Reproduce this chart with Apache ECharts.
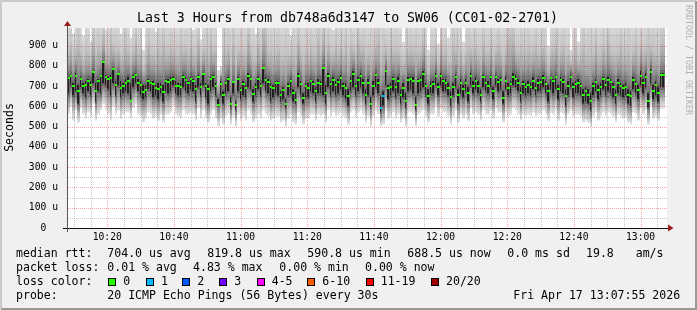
<!DOCTYPE html>
<html><head><meta charset="utf-8">
<script src="https://cdn.jsdelivr.net/npm/echarts@6/dist/echarts.min.js"></script>
<style>html,body{margin:0;padding:0;background:#f0f0f0;}#c{width:697px;height:310px;}</style>
</head><body><div id="c"></div>
<script>
// ---------------- data ----------------
const chartTitle = 'Last 3 Hours from db748a6d3147 to SW06 (CC01-02-2701)';
const startSec = 36475;   // 10:07:55
const endSec = 47275;     // 13:07:55
const stepSec = 45;
const xTickLabels = ['10:20','10:40','11:00','11:20','11:40','12:00','12:20','12:40','13:00'];
const yTickValues = [0,100,200,300,400,500,600,700,800,900];
const yMax = 987;

const median = [
738,752,702,752,677,734,703,707,726,707,771,674,723,748,820,743,736,739,785,707,761,693,703,715,726,628,744,756,715,707,669,682,726,715,711,693,687,697,669,726,720,731,736,703,703,698,744,731,
715,736,723,687,744,698,761,702,687,736,744,703,605,711,657,715,736,613,720,605,734,682,711,690,751,736,661,698,736,703,792,731,720,698,693,715,715,654,682,613,703,723,666,633,752,711,644,700,
693,723,710,677,715,711,792,666,752,711,731,707,720,739,703,693,649,726,761,702,731,752,715,654,715,613,703,756,715,591,649,777,690,698,736,695,723,657,693,625,731,734,726,608,723,731,761,703,
649,702,710,752,698,752,723,718,693,646,698,743,654,715,687,715,666,752,703,726,703,657,743,715,702,743,674,743,720,731,644,726,690,710,744,736,715,666,710,698,707,695,726,693,715,720,739,710,
677,739,723,744,685,731,720,649,703,744,698,711,718,702,654,674,654,625,703,720,682,698,736,707,731,720,698,654,715,702,693,698,657,649,731,710,682,752,715,744,628,772,674,707,666,756,756,null];

const coreLow = [
650,690,640,660,600,680,650,630,660,640,700,610,660,650,700,690,670,640,700,640,690,630,650,660,650,620,680,700,660,640,620,630,670,660,630,640,620,650,610,660,650,660,690,650,640,640,680,660,
650,670,660,610,680,640,690,630,600,660,680,640,590,640,600,650,660,580,650,570,660,620,640,630,680,670,610,640,670,640,700,660,650,610,630,650,640,610,620,580,640,650,610,600,680,640,600,630,
630,660,650,610,650,650,640,600,680,640,660,640,650,670,640,620,590,660,680,640,660,680,650,600,640,580,640,680,650,560,590,690,620,640,660,630,650,600,630,580,660,670,650,570,650,660,680,640,
600,650,650,690,640,690,660,660,640,590,640,680,600,650,630,660,610,690,650,670,650,610,680,660,650,680,620,690,660,670,600,670,640,650,690,680,660,610,650,640,650,640,670,640,660,660,680,650,
610,670,650,670,620,660,650,590,640,680,630,650,650,640,600,610,600,570,640,660,620,640,670,640,660,650,630,600,650,640,630,640,600,590,670,650,620,690,650,680,580,700,620,640,610,680,680,null];

const coreHigh = [
760,770,730,780,720,760,730,740,750,740,790,730,750,770,830,770,760,770,800,740,780,740,730,750,760,730,770,780,750,740,720,720,750,740,740,720,730,730,720,750,750,760,760,740,730,730,770,760,
740,760,750,720,770,730,780,730,720,760,770,730,650,740,690,740,760,660,740,640,760,710,740,720,780,760,700,730,760,730,810,760,750,730,720,740,740,690,710,650,730,750,700,680,780,740,680,730,
730,750,740,710,750,740,810,720,780,740,760,740,750,770,730,730,700,760,790,730,760,780,750,700,750,660,740,780,750,660,690,800,720,730,760,730,760,700,730,680,760,760,760,660,750,760,790,730,
700,740,740,780,730,780,750,750,730,690,730,770,700,750,720,750,710,780,740,760,740,700,770,750,740,770,710,770,750,760,690,760,730,740,780,770,750,710,740,730,740,730,760,730,750,750,770,740,
720,760,750,770,720,760,750,700,740,770,730,740,750,730,700,710,700,680,730,750,720,730,760,740,760,750,730,700,750,730,720,730,700,690,760,740,720,790,750,780,680,800,720,740,710,780,780,null];

const smokeLow = [
560,600,530,580,520,590,560,540,570,550,610,530,560,580,610,580,560,530,600,560,580,540,560,570,570,540,590,610,560,550,520,540,570,560,540,550,530,560,520,560,560,570,600,560,550,540,580,560,
560,570,560,530,590,540,580,540,520,560,580,540,500,540,510,550,560,510,550,500,560,530,550,530,580,560,520,540,560,540,580,560,550,530,540,550,550,520,530,500,540,560,520,510,570,550,510,540,
540,560,560,530,560,550,560,520,580,550,570,550,560,570,550,540,510,570,580,540,570,580,560,520,550,500,550,580,560,500,510,580,540,550,570,540,560,520,540,500,570,570,560,500,560,570,580,550,
520,560,560,600,550,590,570,570,550,510,550,580,520,560,540,560,530,590,560,570,560,530,580,560,560,580,540,590,570,570,520,570,550,560,590,580,560,530,560,550,560,550,570,550,560,560,580,560,
530,570,560,580,530,570,560,510,560,580,550,560,560,550,520,530,520,500,550,570,530,550,570,550,570,560,550,520,560,550,540,550,520,510,570,560,530,590,560,580,510,600,540,550,530,590,590,null];

const smokeHigh = [
1000,1080,960,1000,1150,1000,950,1040,1000,920,1120,1000,1060,1000,1100,980,1000,1150,1000,1040,1000,960,1000,1080,1000,940,1000,1120,1000,1050,880,1000,1100,1000,1000,970,1060,1000,1150,1000,1000,1080,1000,990,1000,1120,1000,1040,
1000,1060,980,1000,1120,930,1000,1040,1000,1150,1000,1080,780,800,1100,1000,1040,1000,1120,1000,1000,1060,1000,1000,1150,1000,1000,960,1080,1000,1200,1180,1000,1040,1000,1000,1060,1000,1000,1100,1000,950,1040,1000,1120,1000,1000,1060,
1000,1080,1000,1040,1150,1000,1100,1000,1060,1000,980,1120,1000,1040,1000,1150,1000,1080,1000,1000,1120,1000,1060,1000,1000,1100,1000,1040,1150,1000,1080,1000,1000,1120,1000,1060,1000,1000,920,1100,1000,1040,1000,1150,1000,1000,1080,1000,
880,1000,1000,1060,910,1100,1000,1040,940,1000,1120,1000,1000,1060,920,1000,1080,1000,1000,1040,1000,1000,1100,1000,1000,1060,1000,1000,1080,1000,1000,1040,1200,1180,1150,1000,1000,1100,1000,1000,1060,1000,1000,1120,1000,1000,1040,1000,
900,1000,1040,1100,1000,1000,1060,1000,1000,880,1000,1080,920,1000,1120,1000,1040,1000,1000,1150,1000,1000,1060,1000,1100,1000,1000,1040,1000,1150,1000,1000,1080,1000,1000,1120,1000,1040,1000,1000,1150,1000,1060,1000,1000,1080,1100,null];

const lossOnePoints = [125, 126];   // sample indices with 1 of 20 pings lost

const lossColors = ['#26ff00','#00b8ff','#0059ff','#7000ff','#ff00ff','#ff5a00','#ff0000','#a10000'];
const lossLabels = ['0','1','2','3','4-5','6-10','11-19','20/20'];

const statsRows = [
  ['median rtt:', '704.0 us avg', '819.8 us max', '590.8 us min', '688.5 us now', '0.0 ms sd', '19.8', 'am/s'],
  ['packet loss:', '0.01 % avg', '4.83 % max', '0.00 % min', '0.00 % now'],
];
const probeText = ['probe:', '20 ICMP Echo Pings (56 Bytes) every 30s', 'Fri Apr 17 13:07:55 2026'];

// ---------------- layout ----------------
const G = {left: 67, top: 28, width: 600, height: 200};
const MONO = '"DejaVu Sans Mono", monospace';
const row1X = [16, 107.3, 207.3, 307.3, 407.3, 507.3, 586, 635.7];
const row2X = [16, 107.3, 193, 279.3, 365];
const boxX = [108.3, 146, 182.3, 219.3, 256.7, 307.3, 365.7, 431];
const rowY = [254, 268, 282, 296];

const toSec = s => { const [h, m] = s.split(':').map(Number); return h * 3600 + m * 60; };
const xTickSecs = xTickLabels.map(toSec);
const fmtTime = v => { const h = Math.floor(v / 3600), m = Math.floor((v % 3600) / 60); return (h < 10 ? '0' : '') + h + ':' + (m < 10 ? '0' : '') + m; };

const smokeData = median.map((m, i) => [startSec + i * stepSec, smokeLow[i], coreLow[i], coreHigh[i], smokeHigh[i]]);
const medData = median.map((m, i) => [startSec + i * stepSec, m, lossOnePoints.indexOf(i) >= 0 ? 1 : 0]);

// grid line positions (minor every 5 min / 50 u, major every 20 min / 100 u)
const minorGrid = [], majorGrid = [];
for (let s = 36600; s < endSec; s += 300) (s % 1200 === 0 ? majorGrid : minorGrid).push([s, 0, 0]);
for (let v = 50; v < yMax; v += 50) (v % 100 === 0 ? majorGrid : minorGrid).push([startSec, v, 1]);

const LG = echarts.graphic.LinearGradient;

function renderSmoke(params, api) {
  const d = smokeData[params.dataIndex];
  const t = d[0], lo = d[1], cl = d[2], ch = d[3], hi = d[4];
  if ([lo, cl, ch, hi].some(v => v == null)) return null;
  const x0 = Math.round(api.coord([t, 0])[0]);
  const x1 = Math.round(api.coord([t + stepSec, 0])[0]);
  const w = x1 - x0;
  const yLo = api.coord([t, lo])[1], yCl = api.coord([t, cl])[1], yCh = api.coord([t, ch])[1], yHi = api.coord([t, hi])[1];
  const bw = Math.max(1, w - 1);
  return {
    type: 'group',
    children: [
      {type: 'rect', shape: {x: x0, y: yHi, width: w, height: yCh - yHi},
       style: {fill: new LG(0, 0, 0, 1, [{offset: 0, color: '#dadada'}, {offset: 0.5, color: '#c4c4c4'}, {offset: 0.8, color: '#a2a2a2'}, {offset: 1, color: '#767676'}])}},
      {type: 'rect', shape: {x: x0, y: yCh, width: w, height: yCl - yCh}, style: {fill: '#6a6a6a'}},
      {type: 'rect', shape: {x: x0, y: yCh + 3, width: bw, height: Math.max(0, yCl - yCh - 6)}, style: {fill: '#202020'}},
      {type: 'rect', shape: {x: x0, y: yCl, width: w, height: yLo - yCl},
       style: {fill: new LG(0, 0, 0, 1, [{offset: 0, color: '#767676'}, {offset: 0.3, color: '#a2a2a2'}, {offset: 0.65, color: '#cacaca'}, {offset: 1, color: '#e4e4e4'}])}}
    ]
  };
}

function renderMedian(params, api) {
  const d = medData[params.dataIndex];
  const t = d[0], m = d[1], loss = d[2];
  if (m == null) return null;
  const x0 = Math.round(api.coord([t, 0])[0]);
  const x1 = Math.round(api.coord([t + stepSec, 0])[0]);
  const y = Math.round(api.coord([t, m])[1]);
  return {type: 'rect', shape: {x: x0, y: y - 1, width: x1 - x0, height: 2}, style: {fill: lossColors[loss]}};
}

// dotted grid line drawn as a filled path of 1px dots
function makeGridRenderer(list, color) {
  return function (params, api) {
    const d = list[params.dataIndex];
    let p = '';
    if (d[2] === 0) {
      const p0 = api.coord([d[0], 0]), p1 = api.coord([d[0], yMax]);
      const x = Math.round(p0[0]);
      for (let y = Math.round(p1[1]); y < Math.round(p0[1]); y += 2) p += 'M' + x + ' ' + y + 'h1v1h-1z';
    } else {
      const p0 = api.coord([startSec, d[1]]), p1 = api.coord([endSec, d[1]]);
      const y = Math.round(p0[1]);
      for (let x = Math.round(p0[0]) + 1; x < Math.round(p1[0]); x += 2) p += 'M' + x + ' ' + y + 'h1v1h-1z';
    }
    return {type: 'path', shape: {pathData: p}, style: {fill: color, stroke: null}};
  };
}

// ---------------- graphic (texts, frame) ----------------
function txt(x, y, s, opts) {
  opts = opts || {};
  return {type: 'text', x: x, y: y, rotation: opts.rotation || 0, silent: true,
    style: {text: s, font: (opts.size || 11.56) + 'px ' + MONO, fill: opts.color || '#000',
      align: opts.align || 'left', verticalAlign: 'middle', textAlign: opts.align || 'left', textVerticalAlign: 'middle'}};
}
const graphics = [];
graphics.push({type: 'polyline', silent: true, shape: {points: [[1, 309], [1, 1], [696, 1]]}, style: {stroke: '#cbcbcb', lineWidth: 2, fill: null}});
graphics.push({type: 'polyline', silent: true, shape: {points: [[1, 309], [696, 309], [696, 1]]}, style: {stroke: '#999999', lineWidth: 2, fill: null}});
graphics.push(txt(347.5, 19, chartTitle, {size: 13.2, align: 'center'}));
graphics.push(txt(10, 127.5, 'Seconds', {rotation: Math.PI / 2, align: 'center'}));
graphics.push(txt(688.3, 60, 'RRDTOOL / TOBI OETIKER', {rotation: -Math.PI / 2, align: 'center', size: 8.3, color: '#b0b0b0'}));
// axis lines and arrows
graphics.push({type: 'rect', silent: true, z: 50, shape: {x: 63, y: 228, width: 606, height: 1}, style: {fill: '#111'}});
graphics.push({type: 'rect', silent: true, z: 50, shape: {x: 67, y: 25, width: 1, height: 207}, style: {fill: '#555'}});
graphics.push({type: 'polygon', silent: true, z: 51, shape: {points: [[64, 26], [71, 26], [67.5, 21]]}, style: {fill: '#9a1c1c'}});
graphics.push({type: 'polygon', silent: true, z: 51, shape: {points: [[668, 224.5], [668, 231.5], [673.5, 228]]}, style: {fill: '#9a1c1c'}});
// stats rows
statsRows[0].forEach((s, i) => graphics.push(txt(row1X[i], rowY[0], s)));
statsRows[1].forEach((s, i) => graphics.push(txt(row2X[i], rowY[1], s)));
graphics.push(txt(16, rowY[2], 'loss color:'));
lossLabels.forEach((s, i) => {
  const bx = Math.round(boxX[i]);
  graphics.push({type: 'rect', silent: true, shape: {x: bx, y: rowY[2] - 4, width: 8, height: 8}, style: {fill: '#000'}});
  graphics.push({type: 'rect', silent: true, shape: {x: bx + 1, y: rowY[2] - 3, width: 6, height: 6}, style: {fill: lossColors[i]}});
  graphics.push(txt(boxX[i] + 15, rowY[2], s));
});
graphics.push(txt(16, rowY[3], probeText[0]));
graphics.push(txt(107.3, rowY[3], probeText[1]));
graphics.push(txt(513.3, rowY[3], probeText[2]));

// ---------------- chart ----------------
const chart = echarts.init(document.getElementById('c'), null, {renderer: 'canvas', width: 697, height: 310});
chart.setOption({
  animation: false,
  backgroundColor: '#f0f0f0',
  grid: Object.assign({show: true, backgroundColor: '#ffffff', borderWidth: 0}, G),
  xAxis: {
    type: 'value', min: startSec, max: endSec,
    axisLine: {show: false}, axisTick: {show: false}, splitLine: {show: false},
    axisLabel: {customValues: xTickSecs, formatter: v => fmtTime(v), margin: 4,
      fontFamily: MONO, fontSize: 9.7, color: '#000'}
  },
  yAxis: {
    type: 'value', min: 0, max: yMax, interval: 100,
    axisLine: {show: false}, axisTick: {show: false}, splitLine: {show: false},
    axisLabel: {customValues: yTickValues, margin: 9,
      formatter: v => v === 0 ? '0  ' : (v + ' u'), fontFamily: MONO, fontSize: 9.7, color: '#000'}
  },
  graphic: graphics,
  series: [
    {type: 'custom', name: 'smoke', data: smokeData, renderItem: renderSmoke, clip: true, z: 2, silent: true,
     encode: {x: 0, y: [1, 2, 3, 4]}},
    {type: 'custom', name: 'minor grid', data: minorGrid, renderItem: makeGridRenderer(minorGrid, 'rgba(0,0,0,0.22)'),
     clip: true, z: 3, silent: true, encode: {x: 0, y: 1}},
    {type: 'custom', name: 'major grid', data: majorGrid, renderItem: makeGridRenderer(majorGrid, 'rgba(240,0,0,0.35)'),
     clip: true, z: 3, silent: true, encode: {x: 0, y: 1}},
    {type: 'custom', name: 'median', data: medData, renderItem: renderMedian, clip: true, z: 4, silent: true,
     encode: {x: 0, y: 1}}
  ]
});
</script></body></html>
